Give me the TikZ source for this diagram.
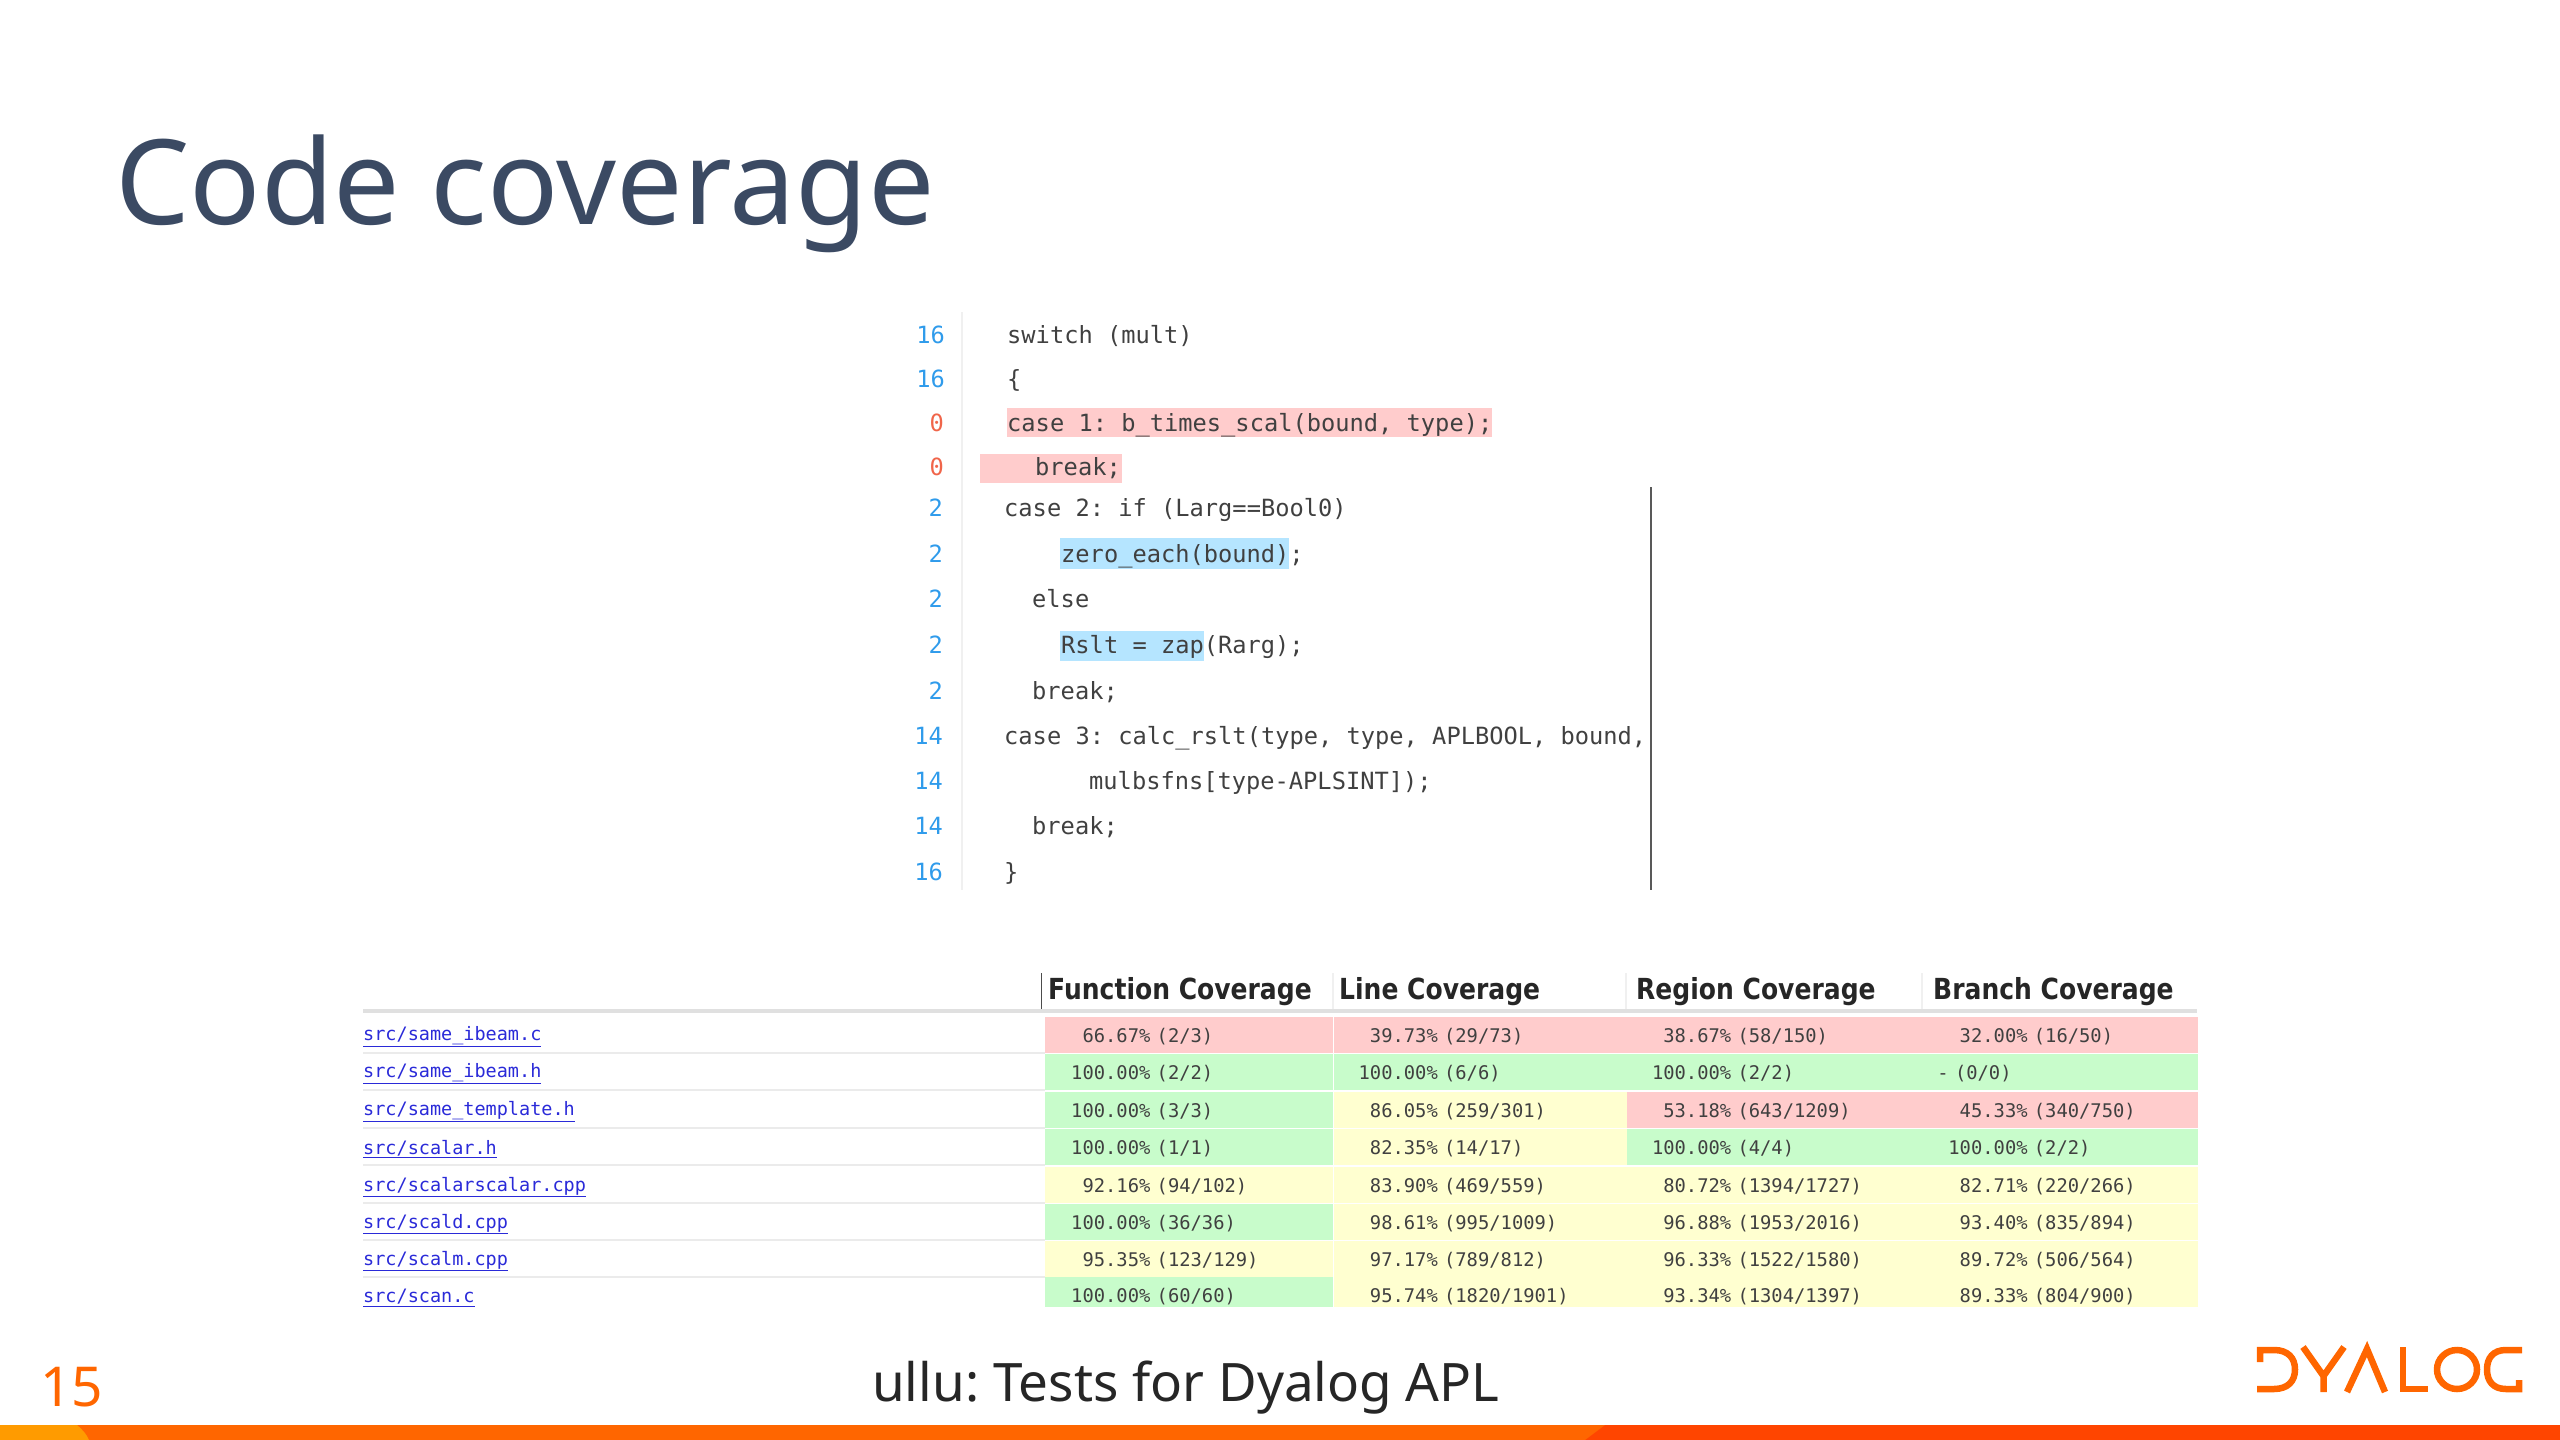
\documentclass[tikz,border=0pt]{standalone}
\usepackage{fontspec}
\setmainfont{Noto Sans}
\newfontfamily\codefont{DejaVu Sans Mono}
\newfontfamily\headfont[FakeStretch=0.863]{DejaVu Sans Bold}
\usetikzlibrary{positioning}

\definecolor{slate}{HTML}{3B4A63}
\definecolor{barlight}{HTML}{FF9B00}
\definecolor{barmid}{HTML}{FF6600}
\definecolor{bardark}{HTML}{FF4500}
\definecolor{numblue}{HTML}{2F9BEB}
\definecolor{numred}{HTML}{F0654A}
\definecolor{hlred}{HTML}{FFCCCC}
\definecolor{hlblue}{HTML}{B5E5FF}
\definecolor{covred}{HTML}{FFCCCC}
\definecolor{covgreen}{HTML}{C8FCCB}
\definecolor{covyellow}{HTML}{FFFFD0}
\definecolor{linkblue}{HTML}{2A2AD8}

\tikzset{
  codeline/.style={anchor=base west,inner sep=0pt,font=\codefont\fontsize{23.7}{28}\selectfont,text=black!75},
  lineno/.style={anchor=base east,inner sep=0pt,font=\codefont\fontsize{23.7}{28}\selectfont,text=numblue},
  zeroline/.style={lineno,text=numred},
  headcell/.style={anchor=base west,inner sep=0pt,font=\headfont\fontsize{29}{34}\selectfont,text=black!85},
  filelink/.style={anchor=west,inner sep=0pt,yshift=-2pt,font=\codefont\fontsize{18.5}{22}\selectfont,text=linkblue},
  covcell/.style={anchor=west,inner sep=0pt,minimum height=36,text width=#1,text height=14,text depth=0,
    align=left,font=\codefont\fontsize{18.8}{22}\selectfont,text=black!75},
  logo/.style={draw=barmid,line width=6.5,line cap=butt,line join=miter},
}
\newcommand{\pad}{\phantom{0}}

\begin{document}
\frenchspacing
\begin{tikzpicture}[x=1pt,y=-1pt]
  \useasboundingbox (0,0) rectangle (2560,1440);

  % bottom bar
  \fill[bardark] (1585,1425) rectangle (2560,1440);
  \fill[barmid] (0,1425) -- (1605,1425) -- (1585,1440) -- (0,1440) -- cycle;
  \fill[barlight] (0,1425) -- (77,1425) .. controls (83,1430) and (87,1435) .. (89,1440) -- (0,1440) -- cycle;

  \node[anchor=base west,inner sep=0pt,font=\fontsize{118}{130}\selectfont,text=slate] (title) at (115,224) {Code coverage};
  \node[anchor=base west,inner sep=0pt,font=\fontsize{55}{66}\selectfont,text=barmid] (pagenum) at (40,1406) {15};
  \node[anchor=base west,inner sep=0pt,font=\fontsize{53}{66}\selectfont,text=black!85] (footer) at (872,1401) {ullu: Tests for Dyalog APL};

  % logo
  \draw[logo] (2260,1362) -- (2260,1350) -- (2274,1350) .. controls (2288,1350) and (2295,1358) .. (2295,1369.5)
              .. controls (2295,1381) and (2288,1389) .. (2274,1389) -- (2257,1389);
  \draw[logo] (2303,1347) -- (2323.5,1376) -- (2344,1347) (2323.5,1376) -- (2323.5,1392);
  \draw[logo] (2347,1392) -- (2367,1349) -- (2385,1392);
  \draw[logo] (2403,1347) -- (2403,1389) -- (2428,1389);
  \draw[logo] (2457,1369.5) ellipse (20 and 19.5);
  \draw[logo] (2522,1350) -- (2506,1350) .. controls (2493,1350) and (2487,1358) .. (2487,1369.5)
              .. controls (2487,1381) and (2493,1389) .. (2506,1389) -- (2519,1389) -- (2519,1380);

  % code listing
  \draw[black!6,line width=2] (962,312) -- (962,890);
  \fill[hlred] (1007,408) rectangle (1492,437);
  \fill[hlred] (980,454) rectangle (1122,483);
  \fill[hlblue] (1060,538) rectangle (1289,569);
  \fill[hlblue] (1060,631) rectangle (1204,661);
  \draw[black!65,line width=1.5] (1651,487) -- (1651,890);

  \node[lineno]   (n1)  at (945,343) {16};
  \node[lineno]   (n2)  at (945,387) {16};
  \node[zeroline] (n3)  at (944,431) {0};
  \node[zeroline] (n4)  at (944,475) {0};
  \node[lineno]   (n5)  at (943,516) {2};
  \node[lineno]   (n6)  at (943,562) {2};
  \node[lineno]   (n7)  at (943,607) {2};
  \node[lineno]   (n8)  at (943,653) {2};
  \node[lineno]   (n9)  at (943,699) {2};
  \node[lineno]   (n10) at (943,744) {14};
  \node[lineno]   (n11) at (943,789) {14};
  \node[lineno]   (n12) at (943,834) {14};
  \node[lineno]   (n13) at (943,880) {16};

  \node[codeline] (c1)  at (1007,343) {switch (mult)};
  \node[codeline] (c2)  at (1007,387) {\{};
  \node[codeline] (c3)  at (1007,431) {case 1: b\_times\_scal(bound, type);};
  \node[codeline] (c4)  at (1035,475) {break;};
  \node[codeline] (c5)  at (1004,516) {case 2: if (Larg==Bool0)};
  \node[codeline] (c6)  at (1061,562) {zero\_each(bound);};
  \node[codeline] (c7)  at (1032,607) {else};
  \node[codeline] (c8)  at (1061,653) {Rslt = zap(Rarg);};
  \node[codeline] (c9)  at (1032,699) {break;};
  \node[codeline] (c10) at (1004,744) {case 3: calc\_rslt(type, type, APLBOOL, bound,};
  \node[codeline] (c11) at (1089,789) {mulbsfns[type-APLSINT]);};
  \node[codeline] (c12) at (1032,834) {break;};
  \node[codeline] (c13) at (1004,880) {\}};

  % coverage table
  \draw[black!12,line width=4] (363,1011) -- (2197,1011);
  \draw[black!70,line width=1] (1041,973) -- (1041,1009);
  \foreach \sepx in {1333,1626,1922}
    \draw[black!6,line width=1.5] (\sepx,973) -- (\sepx,1009);

  \node[headcell] (h1) at (1048,999) {Function Coverage};
  \node[headcell] (h2) at (1339,999) {Line Coverage};
  \node[headcell] (h3) at (1636,999) {Region Coverage};
  \node[headcell] (h4) at (1933,999) {Branch Coverage};

  \foreach \rowy/\rowname in {1035/same\_ibeam.c,1072/same\_ibeam.h,1110/same\_template.h,1147/scalar.h,
                              1185/scalarscalar.cpp,1222/scald.cpp,1259/scalm.cpp,1296/scan.c}
    \node[filelink] at (363,\rowy) {\underline{src/\rowname}};

  \foreach \ruley in {1053,1090,1128,1165,1203,1240,1277}
    \draw[black!8,line width=2] (363,\ruley) -- (1045,\ruley);

  \foreach \rowy/\cola/\colb/\colc/\cold/\texta/\textb/\textc/\textd in {
    1035/covred/covred/covred/covred/{\pad 66.67\% (2/3)}/{\pad 39.73\% (29/73)}/{\pad 38.67\% (58/150)}/{\pad 32.00\% (16/50)},
    1072/covgreen/covgreen/covgreen/covgreen/{100.00\% (2/2)}/{100.00\% (6/6)}/{100.00\% (2/2)}/{\hspace*{-11pt}- (0/0)},
    1110/covgreen/covyellow/covred/covred/{100.00\% (3/3)}/{\pad 86.05\% (259/301)}/{\pad 53.18\% (643/1209)}/{\pad 45.33\% (340/750)},
    1147/covgreen/covyellow/covgreen/covgreen/{100.00\% (1/1)}/{\pad 82.35\% (14/17)}/{100.00\% (4/4)}/{100.00\% (2/2)},
    1185/covyellow/covyellow/covyellow/covyellow/{\pad 92.16\% (94/102)}/{\pad 83.90\% (469/559)}/{\pad 80.72\% (1394/1727)}/{\pad 82.71\% (220/266)},
    1222/covgreen/covyellow/covyellow/covyellow/{100.00\% (36/36)}/{\pad 98.61\% (995/1009)}/{\pad 96.88\% (1953/2016)}/{\pad 93.40\% (835/894)},
    1259/covyellow/covyellow/covyellow/covyellow/{\pad 95.35\% (123/129)}/{\pad 97.17\% (789/812)}/{\pad 96.33\% (1522/1580)}/{\pad 89.72\% (506/564)},
    1295/covgreen/covyellow/covyellow/covyellow/{100.00\% (60/60)}/{\pad 95.74\% (1820/1901)}/{\pad 93.34\% (1304/1397)}/{\pad 89.33\% (804/900)}} {
    \node[covcell=288,fill=\cola] (ca\rowy) at (1045,\rowy) {\hspace*{26pt}\texta};
    \node[covcell=293,fill=\colb,right=0pt of ca\rowy] (cb\rowy) {\hspace*{25pt}\textb};
    \node[covcell=296,fill=\colc,right=0pt of cb\rowy] (cc\rowy) {\hspace*{25pt}\textc};
    \node[covcell=275,fill=\cold,right=0pt of cc\rowy] (cd\rowy) {\hspace*{25pt}\textd};
  }
  \fill[white] (1040,1307) rectangle (2200,1320);
\end{tikzpicture}
\end{document}
